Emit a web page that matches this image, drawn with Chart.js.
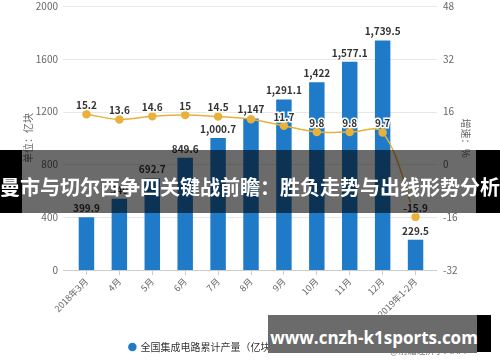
<!DOCTYPE html>
<html>
<head>
<meta charset="utf-8">
<script src="https://cdn.jsdelivr.net/npm/chart.js@4.4.0/dist/chart.umd.min.js"></script>
<style>
html, body { margin: 0; padding: 0; background: #fff; }
#wrap { position: relative; width: 500px; height: 362px; overflow: hidden; }
#chart { position: absolute; left: 0; top: 0; }
.blk { position: absolute; background: #000; }
.band { position: absolute; left: 22px; top: 150px; width: 454px; height: 63px; background: rgba(0,0,0,0.58); }
.bandtxt { position: absolute; left: 0; top: 172px; width: 500px; height: 24px; line-height: 24px; text-align: center;
  color: #fff; font: bold 20px "Noto Sans CJK SC"; white-space: nowrap; }
.src { position: absolute; left: 390px; top: 344px; font: 9px "Noto Sans CJK SC"; color: #777; }
.wm { position: absolute; left: 268px; top: 315px; width: 209px; height: 38px; background: #6b6b6b; }
.wmtxt { position: absolute; left: 268px; top: 326px; width: 212px; height: 22px; line-height: 22px; text-align: center;
  color: #fff; font: bold 17px "Open Sans"; white-space: nowrap; }
</style>
</head>
<body>
<div id="wrap">
  <canvas id="chart" width="500" height="362"></canvas>
  <div class="blk" style="left:0;top:150px;width:22px;height:63px"></div>
  <div class="band"></div>
  <div class="blk" style="left:476px;top:150px;width:24px;height:63px"></div>
  <div class="bandtxt">曼市与切尔西争四关键战前瞻：胜负走势与出线形势分析</div>
  <div class="src">@前瞻经济学人APP</div>
  <div class="wm"></div>
  <div class="blk" style="left:477px;top:315px;width:14px;height:37px"></div>
  <div class="wmtxt">www.cnzh-k1sports.com</div>
</div>
<script>
// 数据
const months = ['2018年3月', '4月', '5月', '6月', '7月', '8月', '9月', '10月', '11月', '12月', '2019年1-2月'];
const output = [399.9, 540, 692.7, 849.6, 1000.7, 1147, 1291.1, 1422, 1577.1, 1739.5, 229.5];
const growth = [15.2, 13.6, 14.6, 15, 14.5, 13.7, 11.7, 9.8, 9.8, 9.7, -15.9];
const leftTicks = [0, 400, 800, 1200, 1600, 2000];
const rightTicks = [-32, -16, 0, 16, 32, 48];

const BLUE = '#1f7bc8';
const GOLD = '#e8b23a';
const FONT = '"Noto Sans CJK SC"';

// 横向网格线（比绘图区略宽）
const gridPlugin = {
  id: 'wideGrid',
  beforeDatasetsDraw(chart) {
    const { ctx, chartArea, scales } = chart;
    ctx.save();
    ctx.lineWidth = 1;
    scales.y.ticks.forEach(t => {
      const py = Math.round(scales.y.getPixelForValue(t.value)) + 0.5;
      ctx.strokeStyle = t.value === 0 ? '#cccccc' : '#e8e8e8';
      ctx.beginPath();
      ctx.moveTo(chartArea.left - 7, py);
      ctx.lineTo(chartArea.right + 5, py);
      ctx.stroke();
    });
    ctx.restore();
  }
};

// 数值标签
const labelPlugin = {
  id: 'valueLabels',
  afterDatasetsDraw(chart) {
    const ctx = chart.ctx;
    const bars = chart.getDatasetMeta(0).data;
    const pts = chart.getDatasetMeta(1).data;
    ctx.save();
    ctx.font = 'bold 10px ' + FONT;
    ctx.textAlign = 'center';
    ctx.textBaseline = 'middle';

    const barBoxes = bars.map((b, i) => {
      const txt = output[i].toLocaleString('en-US');
      const w = ctx.measureText(txt).width;
      return { txt, x: b.x, y: b.y - 9, w };
    });

    pts.forEach((p, i) => {
      const txt = String(growth[i]);
      const w = ctx.measureText(txt).width;
      const y = p.y - 9;
      const bb = barBoxes[i];
      // 与柱状标签重叠时隐藏
      if (Math.abs(bb.y - y) < 11 && Math.abs(bb.x - p.x) < (bb.w + w) / 2) return;
      ctx.lineWidth = 3;
      ctx.strokeStyle = '#fff';
      ctx.strokeText(txt, p.x, y);
      ctx.fillStyle = '#333';
      ctx.fillText(txt, p.x, y);
    });

    ctx.fillStyle = '#333';
    barBoxes.forEach(bb => ctx.fillText(bb.txt, bb.x, bb.y));
    ctx.restore();
  }
};

new Chart(document.getElementById('chart'), {
  data: {
    labels: months,
    datasets: [
      {
        type: 'bar',
        label: '全国集成电路累计产量（亿块）',
        data: output,
        backgroundColor: BLUE,
        yAxisID: 'y',
        categoryPercentage: 1,
        barPercentage: 0.47,
        pointStyle: 'circle',
        order: 2
      },
      {
        type: 'line',
        label: '同比增长（%）',
        data: growth,
        borderColor: GOLD,
        backgroundColor: GOLD,
        borderWidth: 1.5,
        pointRadius: 3.5,
        pointStyle: 'circle',
        pointBackgroundColor: GOLD,
        pointBorderColor: GOLD,
        tension: 0.35,
        yAxisID: 'y1',
        order: 1
      }
    ]
  },
  options: {
    responsive: false,
    animation: false,
    layout: { padding: 0 },
    plugins: {
      legend: {
        position: 'bottom',
        labels: {
          usePointStyle: true,
          boxWidth: 6,
          boxHeight: 6,
          padding: 10,
          color: '#333',
          font: { family: FONT, size: 10 },
          sort: (a, b) => a.datasetIndex - b.datasetIndex
        }
      },
      tooltip: { enabled: false }
    },
    scales: {
      x: {
        offset: true,
        grid: { display: true, drawOnChartArea: false, offset: false, tickLength: 5, color: '#cccccc' },
        border: { display: false },
        ticks: { color: '#666', font: { family: FONT, size: 9 }, maxRotation: 45, minRotation: 45, padding: 1 },
        afterFit(scale) { scale.height = 62; }
      },
      y: {
        position: 'left',
        min: leftTicks[0],
        max: leftTicks[leftTicks.length - 1],
        afterBuildTicks(scale) { scale.ticks = leftTicks.map(v => ({ value: v })); },
        grid: { display: false, drawTicks: true, tickLength: 12 },
        border: { display: false },
        ticks: { color: '#666', font: { family: FONT, size: 10 }, padding: 0, callback: v => String(v) },
        title: { display: true, text: '单位：亿块', color: '#666', font: { family: FONT, size: 10 }, padding: { top: 22, bottom: 0 } },
        afterFit(scale) { scale.width = 70; }
      },
      y1: {
        position: 'right',
        min: rightTicks[0],
        max: rightTicks[rightTicks.length - 1],
        afterBuildTicks(scale) { scale.ticks = rightTicks.map(v => ({ value: v })); },
        grid: { display: false, drawTicks: true, tickLength: 11 },
        border: { display: false },
        ticks: { color: '#666', font: { family: FONT, size: 10 }, padding: 0 },
        title: { display: true, text: '增速：%', color: '#666', font: { family: FONT, size: 10 }, padding: { top: 28, bottom: 0 } },
        afterFit(scale) { scale.width = 68; }
      }
    }
  },
  plugins: [gridPlugin, labelPlugin]
});
</script>
</body>
</html>
